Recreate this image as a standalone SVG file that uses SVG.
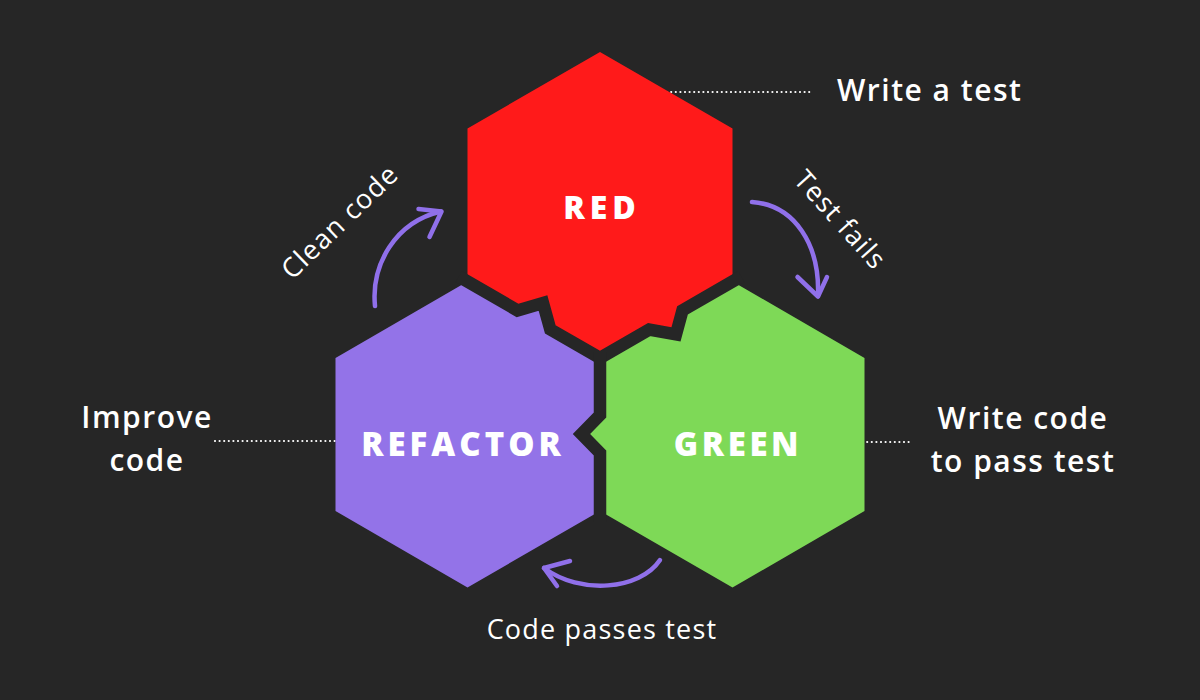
<svg xmlns="http://www.w3.org/2000/svg" width="1200" height="700" viewBox="0 0 1200 700">
  <defs>
    <style>
      .bg { fill: #262626; }
      .seam { fill: none; stroke: #262626; stroke-width: 12.5; stroke-linejoin: miter; stroke-linecap: butt; }
      .title { font-family: "Open Sans", "Liberation Sans", sans-serif; font-weight: 800; fill: #ffffff; text-anchor: middle; }
      .label { font-family: "Open Sans", "Liberation Sans", sans-serif; font-weight: 600; fill: #ffffff; font-size: 30px; }
      .step { font-family: "Open Sans", "Liberation Sans", sans-serif; font-weight: 400; fill: #ffffff; font-size: 27px; text-anchor: middle; }
      .dots { fill: none; stroke: #ffffff; stroke-width: 2.2; stroke-linecap: round; stroke-dasharray: 0 4.6; }
      .arrow { fill: none; stroke: #9070EA; stroke-width: 4.5; stroke-linecap: round; stroke-linejoin: round; }
    </style>
  </defs>
  <rect class="bg" x="0" y="0" width="1200" height="700"/>

  <g id="connectors">
    <path class="dots" d="M 662 92 L 812 92"/>
    <path class="dots" d="M 215 441 L 340 441"/>
    <path class="dots" d="M 858 442 L 912 442"/>
    <path class="arrow" d="M 375 306 C 371 265, 395 222, 441 211.5"/>
    <path class="arrow" d="M 418.5 209 L 441.5 211.5 L 429.5 237"/>
    <path class="arrow" d="M 752 202 C 795 205, 820 245, 818 296"/>
    <path class="arrow" d="M 797.5 277 L 818 296.5 L 827 277"/>
    <path class="arrow" d="M 660 560 C 640 590, 580 595, 544 568"/>
    <path class="arrow" d="M 570 561 L 544 568 L 557 586"/>
  </g>

  <g id="node-red">
    <polygon fill="#FF1A1A" points="600,52 732.5,128.5 732.5,281.5 682.5,310.4 676,334.3 649.2,329.6 600,358 550.3,329.3 543,303 517.5,310.4 467.5,281.5 467.5,128.5"/>
  </g>
  <g id="node-refactor">
    <polygon fill="#9373E8" points="467.5,281.5 517.5,310.4 543,303 550.3,329.3 600,358 600,415 581.5,434 600,453 600,511 467.5,587.5 335.5,511 335.5,358"/>
  </g>
  <g id="node-green">
    <polygon fill="#7ED957" points="732.5,281.5 864.5,358 864.5,511 732.5,587.5 600,511 600,453 581.5,434 600,415 600,358 649.2,329.6 676,334.3 682.5,310.4"/>
  </g>

  <g id="seams">
    <path class="seam" d="M 458.8 276.5 L 467.5 281.5 L 517.5 310.4 L 543 303 L 550.3 329.3 L 600 358 L 649.2 329.6 L 676 334.3 L 682.5 310.4 L 732.5 281.5 L 741.2 276.5"/>
    <path class="seam" d="M 600 352 L 600 415 L 581.5 434 L 600 453 L 600 522"/>
  </g>

  <g id="node-red-text">
    <text class="title" x="602" y="219" font-size="32" letter-spacing="5">RED</text>
  </g>
  <g id="node-refactor-text">
    <text class="title" x="463" y="456" font-size="33" letter-spacing="4">REFACTOR</text>
  </g>
  <g id="node-green-text">
    <text class="title" x="738" y="456" font-size="33" letter-spacing="3.6">GREEN</text>
  </g>

  <g id="label-write-test">
    <text class="label" x="837" y="101" letter-spacing="1.5">Write a test</text>
  </g>
  <g id="label-improve">
    <text class="label" x="147" y="428" text-anchor="middle" letter-spacing="1.5">Improve</text>
    <text class="label" x="147" y="471" text-anchor="middle" letter-spacing="1.5">code</text>
  </g>
  <g id="label-write-code">
    <text class="label" x="1023" y="429" text-anchor="middle" letter-spacing="1.5">Write code</text>
    <text class="label" x="1023" y="472" text-anchor="middle" letter-spacing="1.5">to pass test</text>
  </g>
  <g id="label-clean">
    <text class="step" transform="translate(340,222) rotate(-44)" x="0" y="9" letter-spacing="1.2">Clean code</text>
  </g>
  <g id="label-fails">
    <text class="step" transform="translate(840,220) rotate(48)" x="0" y="9" letter-spacing="1.2">Test fails</text>
  </g>
  <g id="label-passes">
    <text class="step" x="602" y="639" letter-spacing="1.2">Code passes test</text>
  </g>
</svg>
